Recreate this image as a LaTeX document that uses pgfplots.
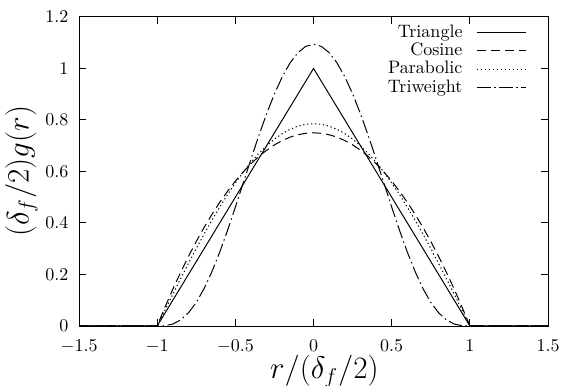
\documentclass[border=0pt]{standalone}
\usepackage{pgfplots}
\usepackage{pgfplotstable}
\pgfplotsset{compat=1.18}
\pgfplotstableread{
x cosk park triw
-1.5 0 0 0
-1.0 0 0 0
-0.95 0.06162 0.073125 0.00101
-0.9 0.12286 0.1425 0.00750
-0.85 0.18335 0.208125 0.02337
-0.8 0.24270 0.27 0.05103
-0.75 0.30056 0.328125 0.09159
-0.7 0.35656 0.3825 0.14509
-0.65 0.41037 0.433125 0.21066
-0.6 0.46164 0.48 0.28672
-0.55 0.51007 0.523125 0.37115
-0.5 0.55536 0.5625 0.46143
-0.45 0.59722 0.598125 0.55477
-0.4 0.63540 0.63 0.64827
-0.35 0.66966 0.658125 0.73903
-0.3 0.69980 0.6825 0.82422
-0.25 0.72562 0.703125 0.90122
-0.2 0.74696 0.72 0.96768
-0.15 0.76370 0.733125 1.02157
-0.1 0.77573 0.7425 1.06126
-0.05 0.78298 0.748125 1.08557
0 0.78540 0.75 1.09375
0.05 0.78298 0.748125 1.08557
0.1 0.77573 0.7425 1.06126
0.15 0.76370 0.733125 1.02157
0.2 0.74696 0.72 0.96768
0.25 0.72562 0.703125 0.90122
0.3 0.69980 0.6825 0.82422
0.35 0.66966 0.658125 0.73903
0.4 0.63540 0.63 0.64827
0.45 0.59722 0.598125 0.55477
0.5 0.55536 0.5625 0.46143
0.55 0.51007 0.523125 0.37115
0.6 0.46164 0.48 0.28672
0.65 0.41037 0.433125 0.21066
0.7 0.35656 0.3825 0.14509
0.75 0.30056 0.328125 0.09159
0.8 0.24270 0.27 0.05103
0.85 0.18335 0.208125 0.02337
0.9 0.12286 0.1425 0.00750
0.95 0.06162 0.073125 0.00101
1.0 0 0 0
1.5 0 0 0
}\kernels
\begin{document}
\begin{tikzpicture}
\begin{axis}[
  at={(0,0)}, anchor=south west,
  scale only axis, width=260.6pt, height=171.7pt,
  xmin=-1.5, xmax=1.5, ymin=0, ymax=1.2,
  xtick={-1.5,-1,-0.5,0,0.5,1,1.5},
  ytick={0,0.2,0.4,0.6,0.8,1,1.2},
  tick align=inside,
  major tick length=4pt,
  axis line style={line width=0.5pt},
  every tick/.style={line width=0.5pt, black},
  xticklabel style={yshift=-4pt},
  yticklabel style={xshift=-2.4pt},
  xlabel={\LARGE $r/(\delta_f/2)$},
  ylabel={\LARGE $(\delta_f/2)g(r)$},
  x label style={at={(rel axis cs:0.523,-0.148)}, anchor=center, inner sep=0pt},
  y label style={at={(rel axis cs:-0.1228,0.5)}, anchor=center},
  legend cell align=right,
  legend plot pos=right,
  legend style={draw=none, fill=none, at={(rel axis cs:1,1)}, anchor=north east,
    xshift=-12.2pt, yshift=-3.6pt, inner sep=0pt, outer sep=0pt,
    row sep=0pt, column sep=7.8pt,
    nodes={inner xsep=0pt, inner ysep=0.1pt, text height=7.5pt, text depth=2.5pt}},
  legend image code/.code={\draw[#1] (0pt,0pt) -- (27pt,0pt);},
  clip=false,
]
\addplot[black, line width=0.55pt] coordinates {(-1.5,0) (-1,0) (0,1) (1,0) (1.5,0)};
\addlegendentry{Triangle}
\addplot[black, line width=0.55pt, dash pattern=on 5pt off 2.8pt] table[x=x,y=park] {\kernels};
\addlegendentry{Cosine}
\addplot[black, line width=0.55pt, dash pattern=on 0.7pt off 1.5pt] table[x=x,y=cosk] {\kernels};
\addlegendentry{Parabolic}
\addplot[black, line width=0.55pt, dash pattern=on 7.5pt off 2pt on 0.8pt off 2pt] table[x=x,y=triw] {\kernels};
\addlegendentry{Triweight}
\end{axis}
\pgfresetboundingbox
\path[use as bounding box] (-43.9pt,-33.3pt) rectangle (278.9pt,181.1pt);
\end{tikzpicture}
\end{document}
